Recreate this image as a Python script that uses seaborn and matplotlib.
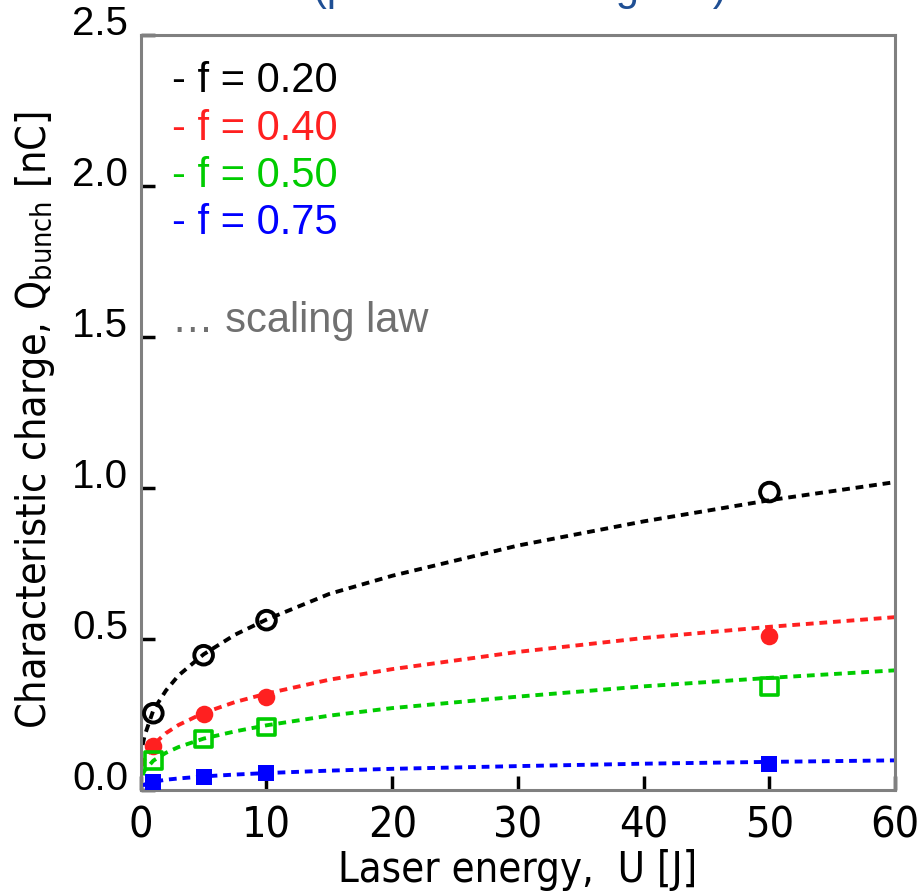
import numpy as np
import pandas as pd
import matplotlib
matplotlib.use("Agg")
import matplotlib.pyplot as plt
import matplotlib.transforms as mtransforms
import seaborn as sns

# ---- data ----
series_labels = ["- f = 0.20", "- f = 0.40", "- f = 0.50", "- f = 0.75"]
series_colors = ["#000000", "#ff2020", "#00cc00", "#0000ff"]

energy_pts = [1, 5, 10, 50]
q_f020 = [0.255, 0.447, 0.563, 0.987]
q_f040 = [0.146, 0.252, 0.308, 0.510]
q_f050 = [0.099, 0.169, 0.209, 0.344]
q_f075 = [0.026, 0.043, 0.056, 0.086]

# scaling-law curves
energy_fit = [0.15, 0.3, 1, 2, 3, 5, 7.5, 10, 15, 20, 30, 40, 50, 60]
fit_f020 = [0.15, 0.18, 0.265, 0.33, 0.38, 0.45, 0.515, 0.565, 0.65, 0.71, 0.81, 0.89, 0.96, 1.02]
fit_f040 = [0.08, 0.102, 0.151, 0.189, 0.216, 0.256, 0.292, 0.32, 0.366, 0.401, 0.458, 0.504, 0.541, 0.573]
fit_f050 = [0.05, 0.065, 0.098, 0.124, 0.143, 0.171, 0.195, 0.215, 0.247, 0.272, 0.31, 0.344, 0.372, 0.397]
fit_f075 = [0.015, 0.019, 0.028, 0.035, 0.039, 0.046, 0.052, 0.057, 0.065, 0.071, 0.08, 0.088, 0.094, 0.099]

x_ticks = [0, 10, 20, 30, 40, 50, 60]
y_ticks = [0.0, 0.5, 1.0, 1.5, 2.0, 2.5]

sns.set_style("ticks")
plt.rcParams["font.family"] = ["Liberation Sans", "DejaVu Sans"]
plt.rcParams["text.color"] = "black"
plt.rcParams["axes.labelcolor"] = "black"
plt.rcParams["xtick.color"] = "black"
plt.rcParams["ytick.color"] = "black"
plt.rcParams["mathtext.fontset"] = "custom"
plt.rcParams["mathtext.rm"] = "DejaVu Sans:stretch=condensed"
plt.rcParams["mathtext.default"] = "rm"
narrow = dict(fontfamily="DejaVu Sans", fontstretch="condensed")

pts = pd.DataFrame({
    "U": energy_pts * 4,
    "Q": q_f020 + q_f040 + q_f050 + q_f075,
    "series": sum([[s] * len(energy_pts) for s in series_labels], []),
})
fit = pd.DataFrame({
    "U": energy_fit * 4,
    "Q": fit_f020 + fit_f040 + fit_f050 + fit_f075,
    "series": sum([[s] * len(energy_fit) for s in series_labels], []),
})

fig = plt.figure(figsize=(9.2, 8.96), dpi=100)
ax = fig.add_axes([0.153, 0.118, 0.820, 0.843])

palette = dict(zip(series_labels, series_colors))
sns.lineplot(data=fit, x="U", y="Q", hue="series", palette=palette, ax=ax,
             legend=False, linewidth=2.8, linestyle=(0, (2.0, 1.5)), sort=True)

marker_kw = [
    dict(marker="o", s=180, facecolors="none", linewidths=2.8),
    dict(marker="o", s=160, linewidths=0),
    dict(marker="s", s=140, facecolors="none", linewidths=2.6),
    dict(marker="s", s=120, linewidths=0),
]
for lab, col, kw in zip(series_labels, series_colors, marker_kw):
    sub = pts[pts["series"] == lab]
    kw = dict(kw)
    if kw.get("facecolors") == "none":
        sns.scatterplot(data=sub, x="U", y="Q", ax=ax, edgecolor=col, legend=False,
                        zorder=4, **kw)
    else:
        sns.scatterplot(data=sub, x="U", y="Q", ax=ax, color=col, legend=False,
                        zorder=4, **kw)

ax.set_xlim(0, 60)
ax.set_ylim(0, 2.5)
ax.set_xticks(x_ticks)
ax.set_yticks(y_ticks)
ax.set_xticklabels([str(v) for v in x_ticks], fontsize=31, **narrow)
ax.set_yticklabels([f"{v:.1f}" for v in y_ticks], fontsize=29)
offset = mtransforms.ScaledTranslation(0, 1 / 100, fig.dpi_scale_trans)
for lbl in ax.get_yticklabels():
    lbl.set_verticalalignment("baseline")
    lbl.set_transform(lbl.get_transform() + offset)
ax.tick_params(axis="x", direction="in", length=10, width=2.5, pad=10)
ax.tick_params(axis="y", direction="in", length=10, width=2.5, pad=9)
for sp in ax.spines.values():
    sp.set_visible(True)
    sp.set_color("#808080")
    sp.set_linewidth(2.2)

ax.set_xlabel("Laser energy,  U [J]", fontsize=30, labelpad=2, **narrow)
ax.set_ylabel(r"Characteristic charge, Q$_{\rm bunch}$ [nC]", fontsize=29.5, **narrow)
ax.yaxis.set_label_coords(-0.111, 0.49)

# legend-like colored text
y0 = 0.965
for i, (lab, col) in enumerate(zip(series_labels, series_colors)):
    ax.text(0.041, y0 - i * 0.0625, lab, transform=ax.transAxes, color=col,
            fontsize=30, va="top", ha="left")
ax.text(0.041, 0.648, "\u2026 scaling law", transform=ax.transAxes, color="#707070",
        fontsize=30, va="top", ha="left")

# title cropped at the top edge of the picture
fig.text(0.565, 0.9995, "(predicted scaling law)", color="#1f4f94", fontsize=30,
         ha="center", va="baseline")

fig.savefig("out.png", dpi=100)
